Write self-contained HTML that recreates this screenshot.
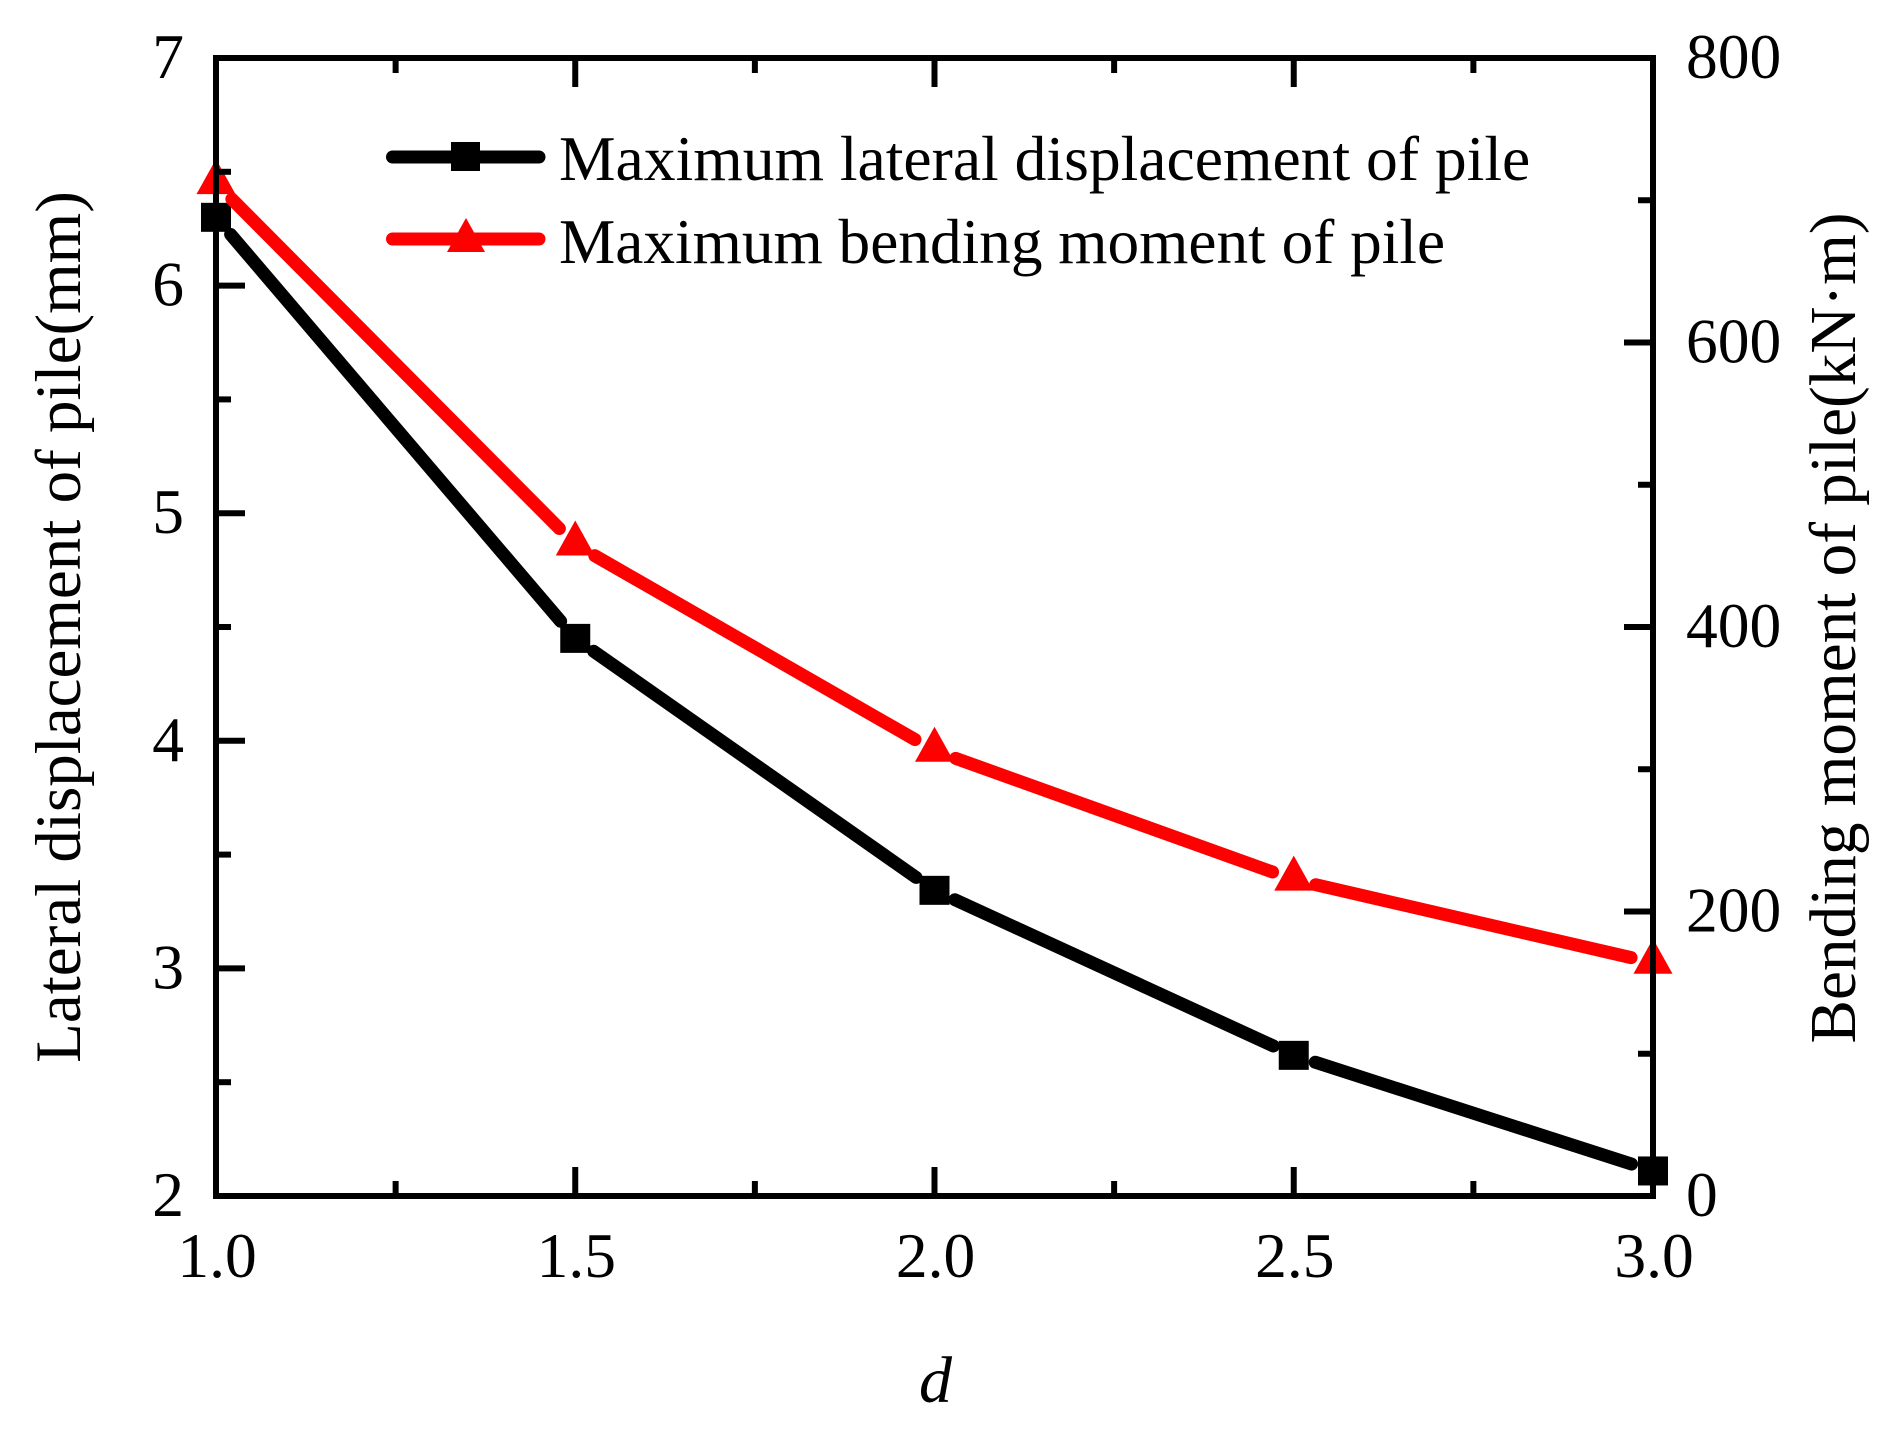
<!DOCTYPE html>
<html lang="en">
<head>
<meta charset="utf-8">
<title>Pile displacement and bending moment vs d</title>
<style>
html,body{margin:0;padding:0;background:#fff;}
svg{display:block;}
text{font-family:"Liberation Serif",serif;fill:#000;}
</style>
</head>
<body>
<svg id="chart" xmlns="http://www.w3.org/2000/svg" width="1903" height="1432" viewBox="0 0 1903 1432">
  <rect x="0" y="0" width="1903" height="1432" fill="#fff"/>
  <g id="series-layer"></g>
  <g id="axes-layer"></g>
  <text x="919" y="1402" font-size="66" font-style="italic">d</text>
  <text transform="translate(80,627) rotate(-90)" font-size="65" text-anchor="middle">Lateral displacement of pile(mm)</text>
  <text transform="translate(1855,628) rotate(-90)" font-size="65.2" text-anchor="middle">Bending moment of pile(kN·m)</text>
  <g>
    <g>
      <line x1="392.5" y1="157" x2="539" y2="157" stroke="#000" stroke-width="13" stroke-linecap="round"/>
      <rect x="451" y="142" width="29" height="29" fill="#000"/>
      <text x="559" y="180" font-size="63.6">Maximum lateral displacement of pile</text>
    </g>
    <g>
      <line x1="392.5" y1="239" x2="539" y2="239" stroke="#f00" stroke-width="13" stroke-linecap="round"/>
      <polygon points="466,218 485,252 447,252" fill="#f00"/>
      <text x="559" y="263" font-size="63.3">Maximum bending moment of pile</text>
    </g>
  </g>
</svg>
<script>
const categories = [1.0, 1.5, 2.0, 2.5, 3.0];
const displacementValues = [6.30, 4.45, 3.343, 2.618, 2.11];
const momentValues = [712, 458, 313, 222.4, 164];
const xTickLabels = ["1.0", "1.5", "2.0", "2.5", "3.0"];
const xMinorTicks = [1.25, 1.75, 2.25, 2.75];
const leftTickLabels = [2, 3, 4, 5, 6, 7];
const leftMinorTicks = [2.5, 3.5, 4.5, 5.5, 6.5];
const rightTickLabels = [0, 200, 400, 600, 800];
const rightMinorTicks = [100, 300, 500, 700];

const NS = "http://www.w3.org/2000/svg";
const plot = { left: 216, right: 1653, top: 58, bottom: 1196 };
const xScale = v => plot.left + (v - 1) / 2 * (plot.right - plot.left);
const yLeft = v => plot.bottom - (v - 2) / 5 * (plot.bottom - plot.top);
const yRight = v => plot.bottom - v / 800 * (plot.bottom - plot.top);
const seriesLayer = document.getElementById("series-layer");
const axesLayer = document.getElementById("axes-layer");

function make(tag, parent, attrs) {
  const el = document.createElementNS(NS, tag);
  for (const k in attrs) el.setAttribute(k, attrs[k]);
  parent.appendChild(el);
  return el;
}

function drawSeries(name, color, values, yFn, marker) {
  const GAP = 22.5;
  const pts = values.map((v, i) => [xScale(categories[i]), yFn(v)]);
  for (let i = 0; i < pts.length - 1; i++) {
    const a = pts[i], b = pts[i + 1];
    const dx = b[0] - a[0], dy = b[1] - a[1], len = Math.hypot(dx, dy);
    const seg = make("line", seriesLayer, {
      x1: a[0] + dx / len * GAP, y1: a[1] + dy / len * GAP,
      x2: b[0] - dx / len * GAP, y2: b[1] - dy / len * GAP,
      stroke: color, "stroke-width": 13, "stroke-linecap": "round"
    });
    
    
  }
  pts.forEach(p => {
    let m;
    if (marker === "square") {
      m = make("rect", seriesLayer, { x: p[0] - 15, y: p[1] - 14.5, width: 30, height: 29, fill: color });
    } else {
      m = make("polygon", seriesLayer, {
        points: p[0] + "," + (p[1] - 24) + " " + (p[0] + 19.5) + "," + (p[1] + 11) + " " + (p[0] - 19.5) + "," + (p[1] + 11),
        fill: color
      });
    }
    
    
  });
}

function tick(x1, y1, x2, y2, name) {
  const t = make("line", axesLayer, { x1: x1, y1: y1, x2: x2, y2: y2, stroke: "#000", "stroke-width": 6 });
  
  
}

function label(str, x, y, anchor, name) {
  const t = make("text", axesLayer, { x: x, y: y, "font-size": 63.5, "text-anchor": anchor });
  t.textContent = str;
  
  
}

drawSeries("displacement", "#000", displacementValues, yLeft, "square");
drawSeries("moment", "#f00", momentValues, yRight, "triangle");

const MAJOR = 29, MINOR = 15;
categories.forEach((c, i) => {
  const x = xScale(c);
  tick(x, plot.bottom, x, plot.bottom - MAJOR, 'x-major-tick-bottom');
  tick(x, plot.top, x, plot.top + MAJOR, 'x-major-tick-top');
  label(xTickLabels[i], x + 1, 1277, "middle", 'x-tick-label');
});
xMinorTicks.forEach(c => {
  const x = xScale(c);
  tick(x, plot.bottom, x, plot.bottom - MINOR, 'x-minor-tick-bottom');
  tick(x, plot.top, x, plot.top + MINOR, 'x-minor-tick-top');
});
leftTickLabels.forEach(v => {
  const y = yLeft(v);
  tick(plot.left, y, plot.left + MAJOR, y, 'left-major-tick');
  label(String(v), 184, y + 20, "end", 'left-tick-label');
});
leftMinorTicks.forEach(v => {
  const y = yLeft(v);
  tick(plot.left, y, plot.left + MINOR, y, 'left-minor-tick');
});
rightTickLabels.forEach(v => {
  const y = yRight(v);
  tick(plot.right, y, plot.right - MAJOR, y, 'right-major-tick');
  label(String(v), 1686, y + 20, "start", 'right-tick-label');
});
rightMinorTicks.forEach(v => {
  const y = yRight(v);
  tick(plot.right, y, plot.right - MINOR, y, 'right-minor-tick');
});

const frame = make("rect", axesLayer, {
  x: plot.left, y: plot.top, width: plot.right - plot.left, height: plot.bottom - plot.top,
  fill: "none", stroke: "#000", "stroke-width": 6
});


</script>
</body>
</html>
